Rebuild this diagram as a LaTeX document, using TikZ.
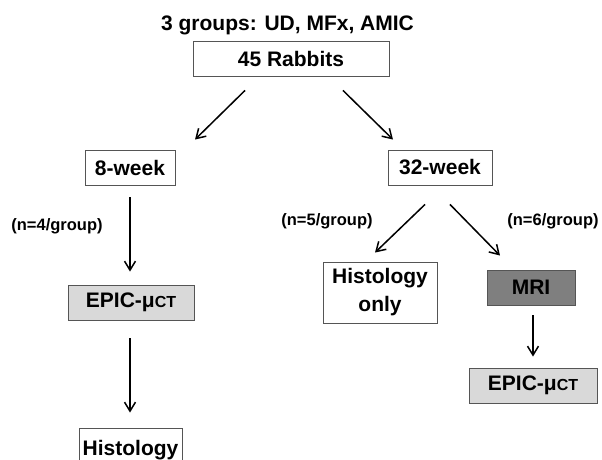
\documentclass[tikz,border=0pt]{standalone}
\usepackage{fontspec}
\setmainfont{Liberation Sans}
\usepackage{xcolor}
\usepackage{tikz}
\usetikzlibrary{arrows.meta,positioning}
\definecolor{boxline}{HTML}{555555}
\definecolor{lightfill}{HTML}{D9D9D9}
\definecolor{darkfill}{HTML}{7F7F7F}

\begin{document}
\begin{tikzpicture}[x=1pt, y=-1pt,
  box/.style={draw=boxline, line width=0.9pt, align=center, inner sep=0pt,
              font=\fontsize{21}{26}\selectfont\bfseries, minimum height=35pt},
  note/.style={font=\fontsize{16.5}{20}\selectfont\bfseries, inner sep=0pt},
  arr/.style={-{Straight Barb[length=9pt, width=11pt]}, line width=1.5pt}]
  \useasboundingbox (0,0) rectangle (602,460);
  \node[font=\fontsize{21}{26}\selectfont\bfseries, inner sep=0pt] (title) at (287.5,25) {3 groups: UD, MFx, AMIC};
  \node[box, minimum width=196pt] (rab) at (291,58.5) {45 Rabbits};
  \node[box, minimum width=90pt] (w8) at (130,167.5) {8-week};
  \node[box, minimum width=104pt] (w32) at (440,167.5) {32-week};
  \node[box, minimum width=126pt, fill=lightfill] (ct8) at (131,302.5) {EPIC-μ{\fontsize{16}{20}\selectfont CT}};
  \node[box, minimum width=103pt, minimum height=44pt] (hist8) at (130.5,450) {Histology};
  \node[box, minimum width=114pt, minimum height=61pt, font=\fontsize{21}{28}\selectfont\bfseries] (histonly) at (380,292.5) {Histology\\ only};
  \node[box, minimum width=88pt, fill=darkfill] (mri) at (531,287.5) {MRI};
  \node[box, minimum width=128pt, fill=lightfill] (ct32) at (533,385.5) {EPIC-μ{\fontsize{16}{20}\selectfont CT}};
  \node[note] (n4) at (57,226) {(n=4/group)};
  \node[note] (n5) at (327,221) {(n=5/group)};
  \node[note] (n6) at (553,221) {(n=6/group)};
  \draw[arr] ([xshift=-46pt, yshift=-14pt]rab.south) -- ([xshift=65pt, yshift=10pt]w8.north);
  \draw[arr] ([xshift=52pt, yshift=-14pt]rab.south) -- ([xshift=-47pt, yshift=10pt]w32.north);
  \draw[arr, shorten <=12pt, shorten >=13pt] (w8.south) -- (w8.south |- ct8.north);
  \draw[arr, shorten <=18pt, shorten >=15pt] (ct8.south -| w8.south) -- (w8.south |- hist8.north);
  \draw[arr] ([xshift=-15pt, yshift=-19pt]w32.south) -- ([xshift=-5pt, yshift=9pt]histonly.north);
  \draw[arr] ([xshift=10pt, yshift=-19pt]w32.south) -- ([xshift=-31pt, yshift=14pt]mri.north);
  \draw[arr, shorten <=10pt, shorten >=11pt] ([xshift=2pt]mri.south) -- (ct32.north);
\end{tikzpicture}
\end{document}
